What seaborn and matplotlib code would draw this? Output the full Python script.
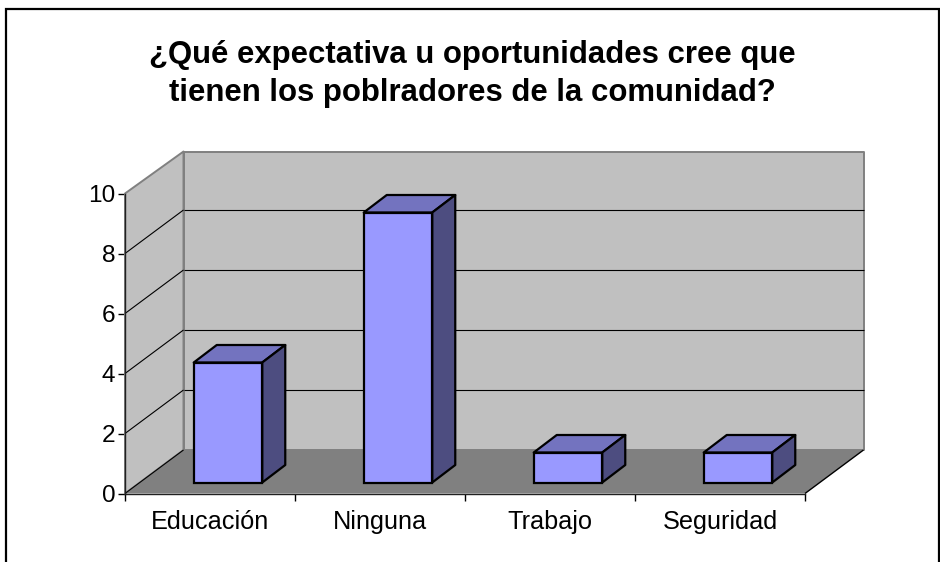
import numpy as np
import pandas as pd
import matplotlib
matplotlib.use("Agg")
import matplotlib.pyplot as plt
import seaborn as sns
from matplotlib.patches import Polygon, Rectangle
from matplotlib.transforms import Affine2D, IdentityTransform

categories = ["Educación", "Ninguna", "Trabajo", "Seguridad"]
values = [4, 9, 1, 1]
y_ticks = [0, 2, 4, 6, 8, 10]
title = "¿Qué expectativa u oportunidades cree que\ntienen los poblradores de la comunidad?"

W, H = 940, 562
# 3d look: how far (pixels) the back wall and the bars are pushed
wall_dx, wall_dy = 58.5, 43.5
bar_dx, bar_dy = 18, 11
bar_depth_x, bar_depth_y = 23, 17.5

sns.set_style("white")
plt.rcParams["font.family"] = ["Liberation Sans", "DejaVu Sans"]

fig = plt.figure(figsize=(W / 100, H / 100), dpi=100)
ax = fig.add_axes([125 / W, (H - 493.5) / H, 680 / W, 300 / H])
ax.patch.set_alpha(0)

df = pd.DataFrame({"cat": categories, "val": values})
sns.barplot(data=df, x="cat", y="val", color="#9999FF", saturation=1, width=0.403,
            edgecolor="black", linewidth=1.6, ax=ax, zorder=5)
ax.set_xlim(-0.5, 3.5)
ax.set_ylim(0, 10)
ax.set_xlabel("")
ax.set_ylabel("")
bars = list(ax.containers[0])


def to_px(x, y, dx=0, dy=0):
    return ax.transData.transform((x, y)) + np.array([dx, dy])


def poly(points, face, edge="none", lw=0, z=1):
    p = Polygon(points, closed=True, facecolor=face, edgecolor=edge, linewidth=lw,
                transform=IdentityTransform(), clip_on=False, zorder=z, joinstyle="round")
    ax.add_artist(p)


def line(a, b, color="black", lw=0.8, z=2):
    ax.plot([a[0], b[0]], [a[1], b[1]], color=color, lw=lw, transform=IdentityTransform(),
            clip_on=False, zorder=z, solid_capstyle="butt", scalex=False, scaley=False)


x0, x1 = ax.get_xlim()
top = y_ticks[-1]
# back wall, side wall, floor (wall top sits a touch under the 10 line in the reference)
top_dy = wall_dy - 1.5
poly([to_px(x0, 0, wall_dx, wall_dy), to_px(x1, 0, wall_dx, wall_dy),
      to_px(x1, top, wall_dx, top_dy), to_px(x0, top, wall_dx, top_dy)], "#C0C0C0", "#808080", 1.4)
poly([to_px(x0, 0), to_px(x0, 0, wall_dx, wall_dy),
      to_px(x0, top, wall_dx, top_dy), to_px(x0, top)], "#C0C0C0", "#808080", 1.4)
poly([to_px(x0, 0), to_px(x1, 0), to_px(x1, 0, wall_dx, wall_dy), to_px(x0, 0, wall_dx, wall_dy)], "#808080", z=1.5)

for t in y_ticks[1:-1]:
    line(to_px(x0, t), to_px(x0, t, wall_dx, wall_dy))
    line(to_px(x0, t, wall_dx, wall_dy), to_px(x1, t, wall_dx, wall_dy))
line(to_px(x1, 0), to_px(x1, 0, wall_dx, wall_dy), lw=1)
line(to_px(x0, 0), to_px(x0, 0, wall_dx, wall_dy), lw=0.8)

# bars come from seaborn, only shifted into the box; top and side follow them
for bar in bars:
    bx, bw, bh = bar.get_x(), bar.get_width(), bar.get_height()
    bar.set_transform(ax.transData + Affine2D().translate(bar_dx, bar_dy))
    bar.set_clip_on(False)
    d = (bar_dx + bar_depth_x, bar_dy + bar_depth_y)
    poly([to_px(bx, bh, bar_dx, bar_dy), to_px(bx + bw, bh, bar_dx, bar_dy),
          to_px(bx + bw, bh, *d), to_px(bx, bh, *d)], "#7373BF", "black", 1.6, z=4)
    poly([to_px(bx + bw, 0, bar_dx, bar_dy), to_px(bx + bw, 0, *d),
          to_px(bx + bw, bh, *d), to_px(bx + bw, bh, bar_dx, bar_dy)], "#4D4D80", "black", 1.6, z=4)

sns.despine(ax=ax)
for side in ["left", "bottom"]:
    ax.spines[side].set_color("#202020")
    ax.spines[side].set_linewidth(1)
    ax.spines[side].set_zorder(3)

ax.set_yticks(y_ticks)
ax.set_xticks(np.arange(len(categories)))
ax.set_xticklabels(categories)
ax.set_xticks(np.arange(len(categories) + 1) - 0.5, minor=True)
ax.tick_params(axis="x", which="major", length=0, pad=12, labelsize=18.2, labelcolor="black")
ax.tick_params(axis="x", which="minor", length=5, width=1, color="black", bottom=True)
ax.tick_params(axis="y", length=5, width=1, color="black", left=True, pad=2, labelsize=17.6, labelcolor="black")

# chart border runs off the bottom of the image
fig.add_artist(Rectangle((6 / W, -0.05), 933 / W, 1.05 - 9 / H, transform=fig.transFigure,
                         facecolor="none", edgecolor="black", linewidth=1.6))
fig.text(472 / W, 1 - 74 / H, title, ha="center", va="center", fontsize=22.4,
         fontweight="bold", color="black", linespacing=1.31)

fig.savefig("out.png", dpi=100)
